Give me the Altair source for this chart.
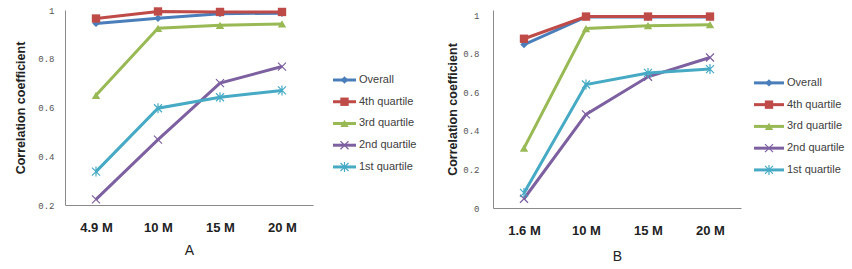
import altair as alt
import pandas as pd

# ---------------- data ----------------
series = ["Overall", "4th quartile", "3rd quartile", "2nd quartile", "1st quartile"]

cats_A = ["4.9 M", "10 M", "15 M", "20 M"]
overall_A = [0.945, 0.966, 0.985, 0.987]
q4_A = [0.965, 0.994, 0.992, 0.992]
q3_A = [0.650, 0.925, 0.937, 0.943]
q2_A = [0.223, 0.468, 0.700, 0.768]
q1_A = [0.337, 0.597, 0.642, 0.670]

cats_B = ["1.6 M", "10 M", "15 M", "20 M"]
overall_B = [0.847, 0.990, 0.990, 0.990]
q4_B = [0.877, 0.992, 0.992, 0.992]
q3_B = [0.310, 0.930, 0.945, 0.950]
q2_B = [0.048, 0.485, 0.680, 0.780]
q1_B = [0.078, 0.640, 0.700, 0.720]

ticks_A = [0.2, 0.4, 0.6, 0.8, 1.0]
ticks_B = [0.0, 0.2, 0.4, 0.6, 0.8, 1.0]

# ---------------- styles ----------------
colors = ["#4A7EBB", "#BE4B48", "#98B954", "#7D60A0", "#46AAC5"]
shapes = ["diamond", "square", "triangle-up",
          "M-1,-1L1,1M-1,1L1,-1",
          "M-1,-1L1,1M-1,1L1,-1M0,-1.25L0,1.25"]
sizes = [55, 70, 70, 64, 64]
filled = [True, True, True, False, False]
FONT = "Liberation Sans"


def point_mark(i):
    if filled[i]:
        return dict(shape=shapes[i], size=sizes[i], filled=True, color=colors[i], opacity=1)
    return dict(shape=shapes[i], size=sizes[i], filled=False, color=colors[i],
                strokeWidth=1.2, opacity=1)


def panel(cats, values, domain, ticks, letter, height, lab_pad, title_pad, x_title_pad):
    rows = [dict(cat=c, value=v, series=s)
            for s, vals in zip(series, values) for c, v in zip(cats, vals)]
    df = pd.DataFrame(rows)
    x = alt.X("cat:N", sort=cats, scale=alt.Scale(type="point", padding=0.5),
              axis=alt.Axis(title=letter, labelAngle=0, labelFont=FONT, labelFontSize=13,
                            labelFontWeight="bold", labelColor="#222", labelPadding=16,
                            titleFont=FONT, titleFontSize=14, titleFontWeight="normal",
                            titleColor="#222", titlePadding=x_title_pad, ticks=False,
                            domainColor="#8a8a8a", grid=False))
    y = alt.Y("value:Q", scale=alt.Scale(domain=domain, nice=False, zero=False),
              axis=alt.Axis(values=ticks, format="~g", title="Correlation coefficient",
                            labelFont="Liberation Mono", labelFontSize=9, labelColor="#555",
                            labelPadding=lab_pad, ticks=False, grid=False,
                            domainColor="#8a8a8a", titleFont=FONT, titleFontSize=12.5,
                            titleFontWeight="bold", titleColor="#222",
                            titlePadding=title_pad))
    layers = []
    for i, s in enumerate(series):
        base = alt.Chart(df).transform_filter(alt.datum.series == s)
        layers.append(base.mark_line(color=colors[i], strokeWidth=3).encode(x=x, y=y))
        layers.append(base.mark_point(**point_mark(i)).encode(x=x, y=y))
    return alt.layer(*layers).properties(width=248, height=height)


def legend(x0, line_len, width, height, y_domain):
    df = pd.DataFrame({"series": series, "idx": list(range(len(series)))})
    y = alt.Y("idx:Q", scale=alt.Scale(domain=y_domain, reverse=True, nice=False, zero=False),
              axis=None)
    layers = []
    for i, s in enumerate(series):
        base = alt.Chart(df).transform_filter(alt.datum.series == s)
        layers.append(base.mark_rule(color=colors[i], strokeWidth=3).encode(
            x=alt.value(x0), x2=alt.value(x0 + line_len), y=y))
        layers.append(base.mark_point(**point_mark(i)).encode(
            x=alt.value(x0 + line_len / 2), y=y))
        layers.append(base.mark_text(align="left", baseline="middle", font=FONT,
                                     fontSize=11, color="#404040").encode(
            x=alt.value(x0 + line_len + 3), y=y, text="series:N"))
    return alt.layer(*layers).properties(width=width, height=height)


pA = panel(cats_A, [overall_A, q4_A, q3_A, q2_A, q1_A], [0.2, 1.0], ticks_A, "A", 195,
           11, 10, 9)
lA = legend(20, 23, 133, 195, [-3.22, 5.75])
pB = panel(cats_B, [overall_B, q4_B, q3_B, q2_B, q1_B], [0.0, 1.026], ticks_B, "B", 198,
           14, 3, 12)
lB = legend(13, 30, 105, 198, [-3.35, 5.75])

chart = alt.hconcat(pA, lA, pB, lB, spacing=0).properties(
    padding={"left": 14, "top": 5, "right": 0, "bottom": 0},
    background="white",
).configure_view(stroke=None)

chart.save("out.html", embed_options={"renderer": "svg", "actions": False})
